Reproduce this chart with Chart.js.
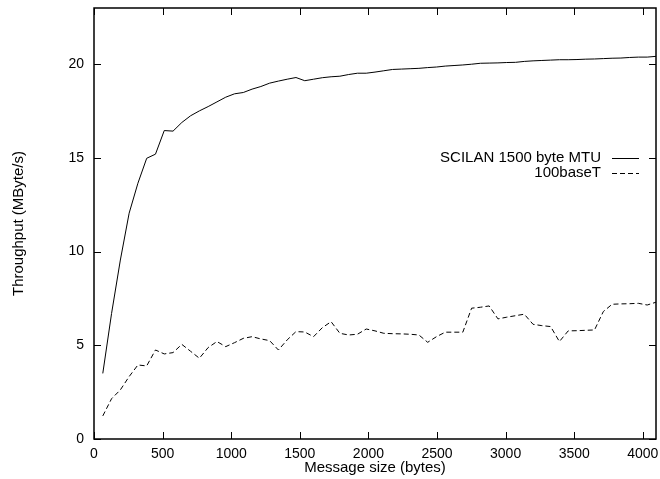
<!DOCTYPE html>
<html>
<head>
<meta charset="utf-8">
<script src="https://cdn.jsdelivr.net/npm/chart.js@4/dist/chart.umd.min.js"></script>
<style>
  html, body { margin: 0; padding: 0; background: #fff; }
  #wrap { width: 660px; height: 479px; }
</style>
</head>
<body>
<div id="wrap"><canvas id="tput-chart" width="660" height="479"></canvas></div>
<script>
// message sizes in bytes
const msgSizes = [64, 128, 192, 256, 320, 384, 448, 512, 576, 640, 704, 768, 832, 896, 960, 1024,
  1088, 1152, 1216, 1280, 1344, 1408, 1472, 1536, 1600, 1664, 1728, 1792, 1856, 1920, 1984, 2048,
  2112, 2176, 2240, 2304, 2368, 2432, 2496, 2560, 2624, 2688, 2752, 2816, 2880, 2944, 3008, 3072,
  3136, 3200, 3264, 3328, 3392, 3456, 3520, 3584, 3648, 3712, 3776, 3840, 3904, 3968, 4032, 4096];

// throughput, MByte/s
const scilan = [3.5, 6.7, 9.55, 12.05, 13.65, 14.98, 15.2, 16.46, 16.43, 16.89, 17.25, 17.51, 17.74, 17.99, 18.24, 18.42,
  18.49, 18.67, 18.81, 18.99, 19.1, 19.2, 19.29, 19.12, 19.2, 19.28, 19.33, 19.36, 19.45, 19.52, 19.52, 19.58,
  19.65, 19.72, 19.74, 19.76, 19.78, 19.82, 19.85, 19.9, 19.93, 19.96, 20.0, 20.05, 20.06, 20.07, 20.09, 20.1,
  20.15, 20.18, 20.2, 20.22, 20.24, 20.24, 20.25, 20.27, 20.28, 20.3, 20.32, 20.33, 20.36, 20.38, 20.38, 20.42];

const base100 = [1.23, 2.15, 2.62, 3.33, 3.95, 3.9, 4.75, 4.54, 4.61, 5.05, 4.68, 4.31, 4.88, 5.2, 4.93, 5.14,
  5.37, 5.46, 5.34, 5.25, 4.75, 5.29, 5.73, 5.71, 5.46, 5.94, 6.26, 5.64, 5.55, 5.59, 5.87, 5.77,
  5.64, 5.62, 5.61, 5.59, 5.55, 5.16, 5.46, 5.7, 5.7, 5.7, 6.98, 7.03, 7.1, 6.41, 6.5, 6.58,
  6.66, 6.12, 6.05, 6.0, 5.2, 5.77, 5.78, 5.8, 5.82, 6.8, 7.19, 7.21, 7.22, 7.24, 7.15, 7.3];

const xTicks = [0, 500, 1000, 1500, 2000, 2500, 3000, 3500, 4000];
const yTicks = [0, 5, 10, 15, 20];

const FONT = 'Liberation Sans, Arial, Helvetica, sans-serif';
Chart.defaults.color = '#000';
Chart.defaults.font.family = FONT;
Chart.defaults.font.size = 14;

const toPoints = vals => msgSizes.map((x, i) => ({ x: x, y: vals[i] }));

// gnuplot style frame: box, inward ticks on all sides, key drawn inside
const framePlugin = {
  id: 'frame',
  afterDatasetsDraw(chart) {
    const ctx = chart.ctx;
    const a = chart.chartArea;
    const xs = chart.scales.x, ys = chart.scales.y;
    const tl = 7;
    ctx.save();
    ctx.strokeStyle = '#000';
    ctx.lineWidth = 1.5;
    ctx.setLineDash([]);
    ctx.strokeRect(a.left, a.top, a.right - a.left, a.bottom - a.top);
    ctx.lineWidth = 1;
    ctx.beginPath();
    xs.ticks.forEach(t => {
      const px = Math.round(xs.getPixelForValue(t.value)) + 0.5;
      ctx.moveTo(px, a.bottom); ctx.lineTo(px, a.bottom - tl);
      ctx.moveTo(px, a.top); ctx.lineTo(px, a.top + tl);
    });
    ys.ticks.forEach(t => {
      const py = Math.round(ys.getPixelForValue(t.value)) + 0.5;
      ctx.moveTo(a.left, py); ctx.lineTo(a.left + tl, py);
      ctx.moveTo(a.right, py); ctx.lineTo(a.right - tl, py);
    });
    ctx.stroke();

    // key
    ctx.font = '15px ' + FONT;
    ctx.fillStyle = '#000';
    ctx.textAlign = 'right';
    ctx.textBaseline = 'middle';
    chart.data.datasets.forEach((ds, i) => {
      const y = 158 + i * 15;
      ctx.fillText(ds.label, 601, y);
      ctx.beginPath();
      ctx.setLineDash(ds.borderDash || []);
      ctx.moveTo(612, y + 0.5);
      ctx.lineTo(639, y + 0.5);
      ctx.stroke();
    });
    ctx.restore();
  }
};

new Chart(document.getElementById('tput-chart').getContext('2d'), {
  type: 'line',
  data: {
    datasets: [{
      label: 'SCILAN 1500 byte MTU',
      data: toPoints(scilan),
      borderColor: '#000',
      borderWidth: 1,
      pointRadius: 0,
      tension: 0,
      fill: false
    }, {
      label: '100baseT',
      data: toPoints(base100),
      borderColor: '#000',
      borderWidth: 1,
      borderDash: [5, 3],
      pointRadius: 0,
      tension: 0,
      fill: false
    }]
  },
  options: {
    responsive: false,
    animation: false,
    layout: { padding: { left: 0, top: 8, right: 4, bottom: 0 } },
    plugins: { legend: { display: false }, tooltip: { enabled: false } },
    scales: {
      x: {
        type: 'linear',
        min: 0,
        max: 4096,
        afterBuildTicks: axis => { axis.ticks = xTicks.map(v => ({ value: v })); },
        afterFit: scale => { scale.height = 40; scale.paddingLeft = 0; scale.paddingRight = 0; },
        grid: { display: false, drawTicks: false },
        border: { display: false },
        ticks: { padding: 7, maxRotation: 0, autoSkip: false, callback: v => String(v) },
        title: { display: true, text: 'Message size (bytes)', font: { size: 15 }, padding: { top: 0, bottom: 2 } }
      },
      y: {
        min: 0,
        max: 23,
        afterBuildTicks: axis => { axis.ticks = yTicks.map(v => ({ value: v })); },
        afterFit: scale => { scale.width = 94; scale.paddingTop = 0; scale.paddingBottom = 0; },
        grid: { display: false, drawTicks: false },
        border: { display: false },
        ticks: { padding: 10, callback: v => String(v) },
        title: { display: true, text: 'Throughput (MByte/s)', font: { size: 15 }, padding: { top: 10, bottom: 0 } }
      }
    }
  },
  plugins: [framePlugin]
});
</script>
</body>
</html>
